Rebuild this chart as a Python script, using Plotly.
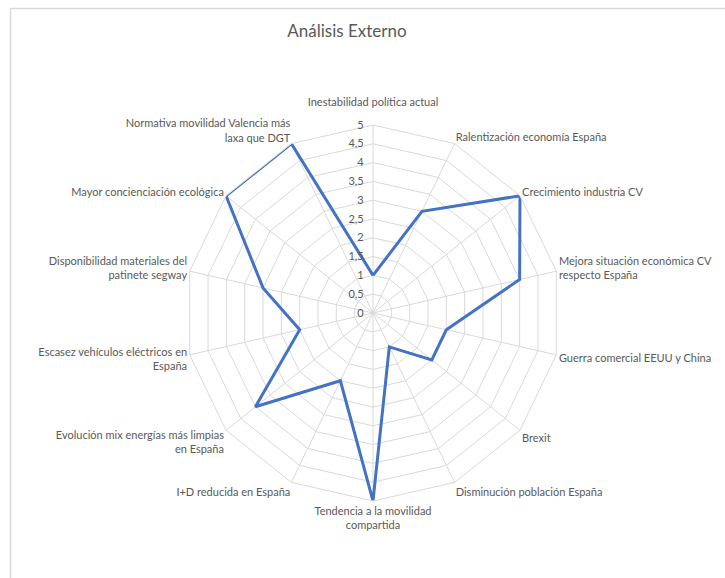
import plotly.graph_objects as go

# Factores del análisis externo y su valoración (0-5)
categorias = [
    "Inestabilidad política actual<br> ",
    "Ralentización economía España",
    "Crecimiento industria CV",
    "Mejora situación económica CV<br>respecto España",
    "Guerra comercial EEUU y China",
    "Brexit",
    "Disminución población España",
    "Tendencia a la movilidad<br>compartida",
    "I+D reducida en España",
    "Evolución mix energías más limpias<br>en España",
    "Escasez vehículos eléctricos en<br>España",
    "Disponibilidad materiales del<br>patinete segway",
    "Mayor concienciación ecológica",
    "Normativa movilidad Valencia más<br>laxa que DGT",
]
valores = [1, 3, 5, 4, 2, 2, 1, 5, 2, 4, 2, 3, 5, 5]

marcas_radiales = [0, 0.5, 1, 1.5, 2, 2.5, 3, 3.5, 4, 4.5, 5]
textos_radiales = ["0", "0,5", "1", "1,5", "2", "2,5", "3", "3,5", "4", "4,5", "5"]

W, H = 725, 578
cx, cy, R = 373, 313, 188

GRIS_TEXTO = "#595959"
GRIS_REJILLA = "#d9d9d9"
FUENTE = "Lato"

fig = go.Figure()
fig.add_trace(go.Scatterpolar(
    r=valores + valores[:1],
    theta=categorias + categorias[:1],
    mode="lines",
    line=dict(color="#4472C4", width=3),
    hoverinfo="skip",
    showlegend=False,
))

fig.update_layout(
    width=W, height=H,
    margin=dict(l=0, r=0, t=0, b=0),
    paper_bgcolor="white",
    plot_bgcolor="white",
    font=dict(family=FUENTE, color=GRIS_TEXTO, size=11),
    title=dict(
        text="Análisis Externo",
        x=347 / W, y=1 - 31 / H,
        xanchor="center", yanchor="middle",
        font=dict(family=FUENTE, size=17, color=GRIS_TEXTO),
    ),
    polar=dict(
        domain=dict(
            x=[(cx - R) / W, (cx + R) / W],
            y=[(H - cy - R) / H, (H - cy + R) / H],
        ),
        bgcolor="white",
        gridshape="linear",
        radialaxis=dict(
            range=[0, 5],
            tickvals=marcas_radiales,
            ticktext=textos_radiales,
            angle=90,
            tickangle=90,
            side="counterclockwise",
            showline=False,
            ticks="outside",
            ticklen=5,
            tickcolor="rgba(0,0,0,0)",
            gridcolor=GRIS_REJILLA,
            gridwidth=1,
            tickfont=dict(family=FUENTE, size=11, color=GRIS_TEXTO),
        ),
        angularaxis=dict(
            rotation=90,
            direction="clockwise",
            showline=True,
            linecolor=GRIS_REJILLA,
            linewidth=1,
            gridcolor=GRIS_REJILLA,
            gridwidth=1,
            ticks="",
            tickfont=dict(family=FUENTE, size=11, color=GRIS_TEXTO),
        ),
    ),
    shapes=[
        dict(type="line", xref="paper", yref="paper",
             x0=10.5 / W, x1=1.0, y0=1 - 8.5 / H, y1=1 - 8.5 / H,
             line=dict(color="#d9d9d9", width=1.5)),
        dict(type="line", xref="paper", yref="paper",
             x0=10.5 / W, x1=10.5 / W, y0=0, y1=1 - 8.5 / H,
             line=dict(color="#d9d9d9", width=1.5)),
    ],
)

fig.write_html("out.html")
